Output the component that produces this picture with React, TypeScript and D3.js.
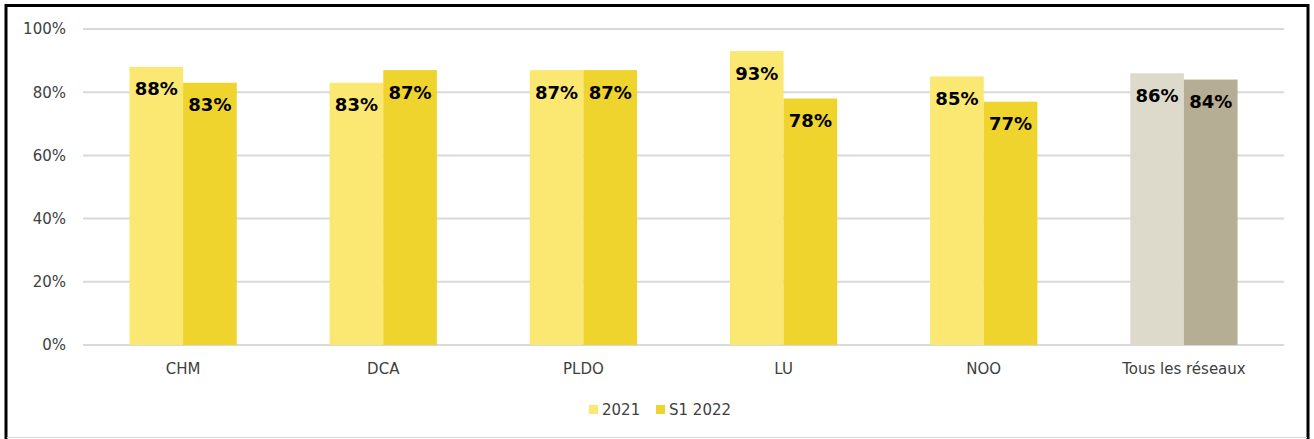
import React, { useEffect, useRef } from 'react'
import * as d3 from 'd3'

const categories = ['CHM', 'DCA', 'PLDO', 'LU', 'NOO', 'Tous les réseaux']
const series = ['2021', 'S1 2022']
const values2021 = [88, 83, 87, 93, 85, 86]
const valuesS12022 = [83, 87, 87, 78, 77, 84]
const yTicks = [0, 20, 40, 60, 80, 100]

const colors = ['#FBE872', '#EFD42D']
const totalColors = ['#DDDACB', '#B5AE94']

export default function App() {
  const ref = useRef<SVGSVGElement>(null)

  useEffect(() => {
    const width = 1314, height = 439
    const left = 83, right = 1284, top = 29, bottom = 345
    const svg = d3.select(ref.current)
    svg.selectAll('*').remove()

    const x0 = d3.scaleBand().domain(categories).range([left, right]).padding(0)
    const x1 = d3.scaleBand().domain(series)
      .range([x0.bandwidth() * 0.232, x0.bandwidth() * 0.768]).padding(0)
    const y = d3.scaleLinear().domain([0, 100]).range([bottom, top])

    svg.append('rect').attr('width', width).attr('height', height).attr('fill', '#fff')

    // gridlines
    svg.append('g').selectAll('line').data(yTicks).enter().append('line')
      .attr('x1', left).attr('x2', right)
      .attr('y1', d => y(d)).attr('y2', d => y(d))
      .style('stroke', '#d9d9d9').style('stroke-width', 2)

    const yAxis = d3.axisLeft(y).tickValues(yTicks).tickSize(0).tickPadding(17)
      .tickFormat(d => d + '%')
    const ya = svg.append('g').attr('transform', `translate(${left},0)`).call(yAxis)
    ya.select('.domain').remove()
    ya.selectAll('text').style('font-family', 'DejaVu Sans').style('font-size', '15px')
      .style('fill', '#404040')

    const xAxis = d3.axisBottom(x0).tickSize(0).tickPadding(18)
    const xa = svg.append('g').attr('transform', `translate(0,${bottom})`).call(xAxis)
    xa.select('.domain').remove()
    xa.selectAll('text').style('font-family', 'DejaVu Sans').style('font-size', '15px')
      .style('fill', '#404040')

    const rows = categories.map((c, i) => ({ c, i, vals: [values2021[i], valuesS12022[i]] }))
    const groups = svg.append('g').selectAll('g').data(rows).enter().append('g')
      .attr('transform', d => `translate(${x0(d.c)},0)`)

    groups.selectAll('rect').data(d => d.vals.map((v, j) => ({ v, j, last: d.i === categories.length - 1 })))
      .enter().append('rect')
      .attr('x', d => x1(series[d.j])!)
      .attr('width', x1.bandwidth())
      .attr('y', d => y(d.v))
      .attr('height', d => bottom - y(d.v))
      .attr('fill', d => (d.last ? totalColors : colors)[d.j])

    groups.selectAll('text').data(d => d.vals.map((v, j) => ({ v, j })))
      .enter().append('text')
      .attr('x', d => x1(series[d.j])! + x1.bandwidth() / 2)
      .attr('y', d => y(d.v) + 28.5)
      .attr('text-anchor', 'middle')
      .style('font-family', 'DejaVu Sans').style('font-weight', 'bold')
      .style('font-size', '18px').style('fill', '#000')
      .text(d => d.v + '%')

    // legend
    const legendPos = [589, 656]
    const lg = svg.append('g')
    series.forEach((s, j) => {
      lg.append('rect').attr('x', legendPos[j]).attr('y', 405).attr('width', 9).attr('height', 9)
        .attr('fill', colors[j])
      lg.append('text').attr('x', legendPos[j] + 13).attr('y', 415)
        .style('font-family', 'DejaVu Sans').style('font-size', '15px').style('fill', '#404040')
        .text(s)
    })

    // frame
    svg.append('rect').attr('x', 6).attr('y', 5.5).attr('width', 1302).attr('height', 445)
      .attr('fill', 'none').style('stroke', '#000').style('stroke-width', 3)
    svg.append('line').attr('x1', 7).attr('x2', 1307).attr('y1', 437.5).attr('y2', 437.5)
      .style('stroke', '#d9d9d9').style('stroke-width', 1)
  }, [])

  return <svg ref={ref} width={1314} height={439}
    style={{ position: 'absolute', left: 0, top: 0, display: 'block' }} />
}
